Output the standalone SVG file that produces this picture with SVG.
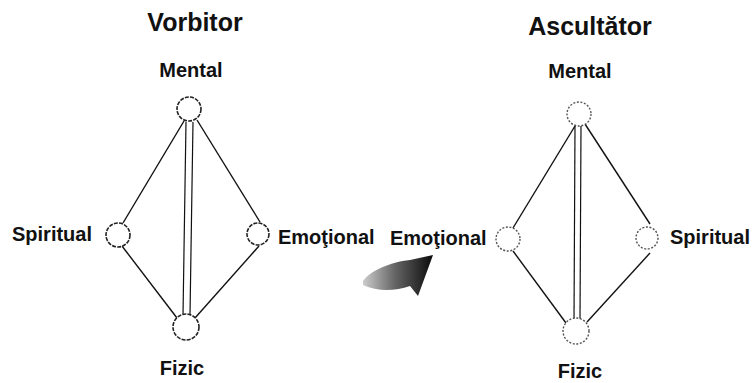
<svg xmlns="http://www.w3.org/2000/svg" width="755" height="383" viewBox="0 0 755 383">
<style>
  .title { font-family: "Liberation Sans", Arial, sans-serif; font-weight: bold; font-size: 25px; fill: #111; }
  .lbl { font-family: "Liberation Sans", Arial, sans-serif; font-weight: bold; font-size: 20px; fill: #111; }
  .edge { stroke: #111; stroke-width: 1.4; fill: none; }
  .rail { stroke: #111; stroke-width: 1.2; fill: none; }
  .nodeA { fill: #fff; stroke: #222; stroke-width: 1.6; stroke-dasharray: 4 1.2; }
  .nodeB { fill: #fff; stroke: #555; stroke-width: 1.4; stroke-dasharray: 2 1.6; }
</style>
<defs>
  <linearGradient id="arrowGrad" x1="0" y1="0" x2="1" y2="0">
    <stop offset="0" stop-color="#ccc"/>
    <stop offset="0.45" stop-color="#666"/>
    <stop offset="1" stop-color="#0a0a0a"/>
  </linearGradient>
</defs>
<rect width="755" height="383" fill="#fff"/>

<text class="title" x="195" y="31" text-anchor="middle">Vorbitor</text>
<text class="title" x="590" y="35" text-anchor="middle">Ascultător</text>

<g id="connectors">
  <!-- left diagram -->
  <line class="edge" x1="184" y1="121" x2="123" y2="223"/>
  <line class="edge" x1="197" y1="120" x2="260" y2="222"/>
  <line class="edge" x1="122" y1="246" x2="177" y2="318"/>
  <line class="edge" x1="259" y1="246" x2="195" y2="318"/>
  <line class="rail" x1="186" y1="122" x2="183" y2="315"/>
  <line class="rail" x1="193" y1="122" x2="190" y2="315"/>
  <!-- right diagram -->
  <line class="edge" x1="575" y1="126" x2="513" y2="228"/>
  <line class="edge" x1="585" y1="124" x2="650" y2="224"/>
  <line class="edge" x1="513" y1="251" x2="566" y2="323"/>
  <line class="edge" x1="650" y1="253" x2="587" y2="322"/>
  <line class="rail" x1="575" y1="126" x2="574" y2="320"/>
  <line class="rail" x1="581" y1="126" x2="580" y2="320"/>
</g>

<g id="v-mental">
  <circle class="nodeA" cx="189" cy="109" r="12"/>
  <text class="lbl" x="191" y="77" text-anchor="middle">Mental</text>
</g>
<g id="v-spiritual">
  <circle class="nodeA" cx="118" cy="235" r="12"/>
  <text class="lbl" x="12" y="241">Spiritual</text>
</g>
<g id="v-emotional">
  <circle class="nodeA" cx="258" cy="234" r="11"/>
  <text class="lbl" x="278" y="244">Emoţional</text>
</g>
<g id="v-fizic">
  <circle class="nodeA" cx="186" cy="327" r="13"/>
  <text class="lbl" x="182" y="375" text-anchor="middle">Fizic</text>
</g>

<g id="a-mental">
  <circle class="nodeB" cx="579" cy="114" r="12"/>
  <text class="lbl" x="580" y="78" text-anchor="middle">Mental</text>
</g>
<g id="a-emotional">
  <circle class="nodeB" cx="508" cy="239" r="12"/>
  <text class="lbl" x="390" y="245">Emoţional</text>
</g>
<g id="a-spiritual">
  <circle class="nodeB" cx="647" cy="238" r="11"/>
  <text class="lbl" x="670" y="244">Spiritual</text>
</g>
<g id="a-fizic">
  <circle class="nodeB" cx="576" cy="331" r="13"/>
  <text class="lbl" x="580" y="378" text-anchor="middle">Fizic</text>
</g>

<g id="transfer-arrow">
  <path d="M363,281 C370,271 390,262 410,260 L433,255 L418,296 L410,286 C395,291 378,292 363,285 Z" fill="url(#arrowGrad)"/>
</g>
</svg>
